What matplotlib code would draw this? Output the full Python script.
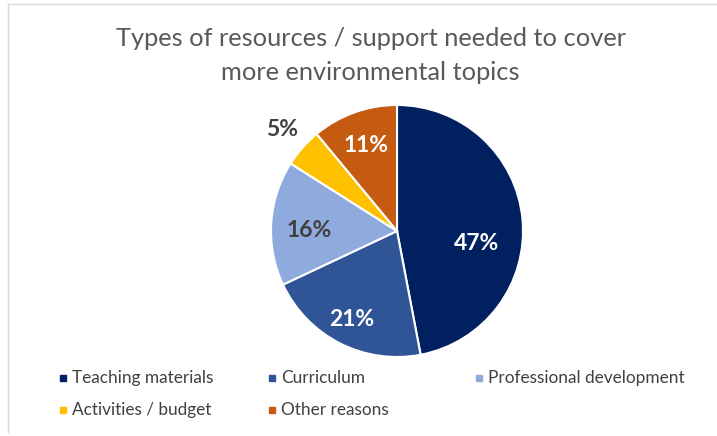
import numpy as np
import matplotlib.pyplot as plt
from matplotlib.patches import Rectangle
from matplotlib.lines import Line2D

plt.rcParams['font.family'] = ['Lato', 'DejaVu Sans']

labels = ['Teaching materials', 'Curriculum', 'Professional development',
          'Activities / budget', 'Other reasons']
values = [47, 21, 16, 5, 11]
colors = ['#002060', '#2F5597', '#8FAADC', '#FFC000', '#C55A11']
text_colors = ['white', 'white', '#404040', '#404040', 'white']
label_dist = [0.64, 0.79, 0.70, 1.22, 0.72]
label_turn = [-14, 0, 3, 0, 0]  # degrees, nudges label off the slice midline

W, H = 717, 436
fig = plt.figure(figsize=(W / 100, H / 100), dpi=100)

# chart frame: only the top and left edges are visible in the crop
fig.lines.append(Line2D([8 / W, 1.0], [1 - 4 / H, 1 - 4 / H], transform=fig.transFigure,
                        color='#D9D9D9', linewidth=1))
fig.lines.append(Line2D([8 / W, 8 / W], [1 - 4 / H, 1 - 432 / H], transform=fig.transFigure,
                        color='#D9D9D9', linewidth=1))

fig.text(0.517, 1 - 38 / H, 'Types of resources / support needed to cover',
         ha='center', va='center', fontsize=18.3, color='#595959')
fig.text(0.517, 1 - 72 / H, 'more environmental topics',
         ha='center', va='center', fontsize=18.3, color='#595959')

cx, cy, r_px = 397, 231, 126
ax = fig.add_axes([(cx - r_px) / W, (H - cy - r_px) / H,
                   2 * r_px / W, 2 * r_px / H])
wedges, _ = ax.pie(values, colors=colors, startangle=90, counterclock=False,
                   radius=1, wedgeprops=dict(edgecolor='white', linewidth=1.5))
ax.set_xlim(-1, 1)
ax.set_ylim(-1, 1)
ax.set_aspect('auto')

for w, v, c, d, t in zip(wedges, values, text_colors, label_dist, label_turn):
    ang = np.deg2rad((w.theta1 + w.theta2) / 2 + t)
    ax.text(d * np.cos(ang), d * np.sin(ang), f'{v}%', ha='center', va='center',
            fontsize=16.5, fontweight='bold', color=c)

legend_pos = [(63, 378), (272, 378), (479, 378), (63, 410), (272, 410)]
for (x, y), lab, col in zip(legend_pos, labels, colors):
    fig.patches.append(Rectangle(((x - 3) / W, (H - y - 3) / H), 6 / W, 6 / H,
                                 transform=fig.transFigure, color=col))
    fig.text((x + 9) / W, (H - y) / H, lab, ha='left', va='center',
             fontsize=12.4, color='#404040')

fig.savefig('out.png', dpi=100)
